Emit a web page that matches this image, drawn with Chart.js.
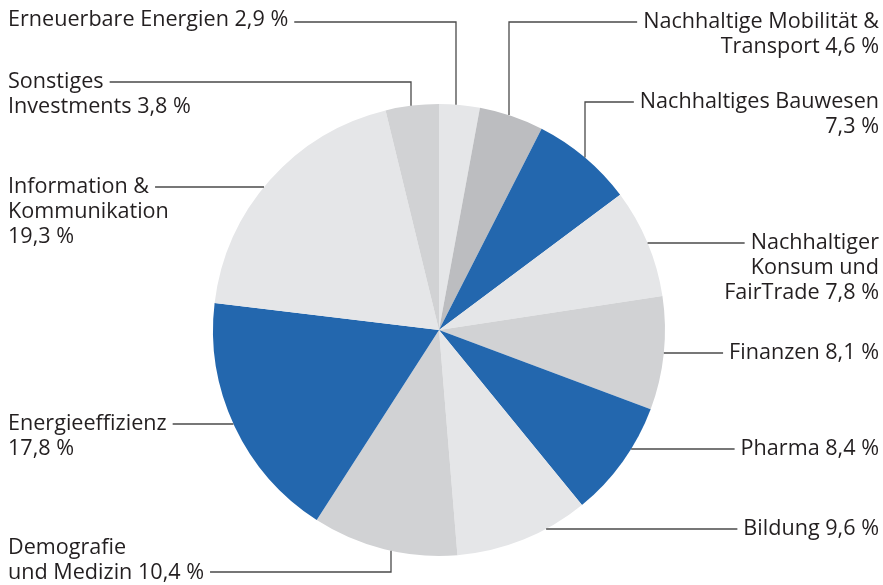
<!DOCTYPE html>
<html>
<head>
<meta charset="utf-8">
<script src="https://cdn.jsdelivr.net/npm/chart.js@4.4.0/dist/chart.umd.min.js"></script>
<style>
  html, body { margin: 0; padding: 0; background: #fff; }
  #pie { display: block; }
</style>
</head>
<body>
<canvas id="pie" width="883" height="585"></canvas>
<script>
// data, clockwise from 12 o'clock
const categories = [
    'Erneuerbare Energien',
    'Nachhaltige Mobilität & Transport',
    'Nachhaltiges Bauwesen',
    'Nachhaltiger Konsum und FairTrade',
    'Finanzen',
    'Pharma',
    'Bildung',
    'Demografie und Medizin',
    'Energieeffizienz',
    'Information & Kommunikation',
    'Sonstiges Investments'
];
const shares = [2.9, 4.6, 7.3, 7.8, 8.1, 8.4, 9.6, 10.4, 17.8, 19.3, 3.8];

const LIGHT = '#e5e6e8', MID = '#d1d2d4', DARK = '#bcbdc0', BLUE = '#2367ae';
const sliceColors = [LIGHT, DARK, BLUE, LIGHT, MID, BLUE, LIGHT, MID, BLUE, LIGHT, MID];

// label layout: text lines ({v} = value), anchor, leader line y, optional elbow x
const labelLayout = [
    { side: 'left',  x: 8,   y: 20,  lines: ['Erneuerbare Energien {v}'], hook: 0, lineY: 22, elbowX: 456 },
    { side: 'right', x: 879, y: 22,  lines: ['Nachhaltige Mobilität &', 'Transport {v}'], hook: 0, lineY: 22, elbowX: 509 },
    { side: 'right', x: 879, y: 102, lines: ['Nachhaltiges Bauwesen', '{v}'], hook: 0, lineY: 102, elbowX: 585 },
    { side: 'right', x: 879, y: 243, lines: ['Nachhaltiger', 'Konsum und', 'FairTrade {v}'], hook: 0, lineY: 243 },
    { side: 'right', x: 879, y: 353, lines: ['Finanzen {v}'], hook: 0, lineY: 353 },
    { side: 'right', x: 879, y: 449, lines: ['Pharma {v}'], hook: 0, lineY: 449 },
    { side: 'right', x: 879, y: 529, lines: ['Bildung {v}'], hook: 0, lineY: 529 },
    { side: 'left',  x: 8,   y: 548, lines: ['Demografie', 'und Medizin {v}'], hook: 1, lineY: 572, elbowX: 391 },
    { side: 'left',  x: 8,   y: 424, lines: ['Energieeffizienz', '{v}'], hook: 0, lineY: 424 },
    { side: 'left',  x: 8,   y: 187, lines: ['Information &', 'Kommunikation', '{v}'], hook: 0, lineY: 187 },
    { side: 'left',  x: 8,   y: 82,  lines: ['Sonstiges', 'Investments {v}'], hook: 0, lineY: 82, elbowX: 411 }
];

const FONT = '21.6px "Open Sans", sans-serif';
const LINE_H = 25;

function fmt(v) {
    return v.toFixed(1).replace('.', ',') + ' %';
}

const leaderLabels = {
    id: 'leaderLabels',
    afterDraw(chart) {
        const ctx = chart.ctx;
        const arcs = chart.getDatasetMeta(0).data;
        const cx = arcs[0].x, cy = arcs[0].y, r = arcs[0].outerRadius;
        ctx.save();
        ctx.font = FONT;
        ctx.fillStyle = '#231f20';
        ctx.textBaseline = 'middle';
        labelLayout.forEach((lab, i) => {
            const texts = lab.lines.map(t => t.replace('{v}', fmt(shares[i])));
            ctx.textAlign = lab.side === 'left' ? 'left' : 'right';
            texts.forEach((t, k) => ctx.fillText(t, lab.x, lab.y + k * LINE_H));

            // where the line leaves the text
            const w = ctx.measureText(texts[lab.hook]).width;
            const startX = lab.side === 'left' ? lab.x + w + 6 : lab.x - w - 6;
            const pts = [[startX, lab.lineY]];
            if (lab.elbowX !== undefined) {
                const dx = lab.elbowX - cx;
                const dy = Math.sqrt(r * r - dx * dx);
                const edgeY = lab.lineY < cy ? cy - dy : cy + dy;
                pts.push([lab.elbowX, lab.lineY], [lab.elbowX, edgeY]);
            } else {
                const dy = lab.lineY - cy;
                const dx = Math.sqrt(r * r - dy * dy);
                pts.push([lab.side === 'left' ? cx - dx : cx + dx, lab.lineY]);
            }
            ctx.beginPath();
            ctx.strokeStyle = '#4a4a4a';
            ctx.lineWidth = 1.3;
            pts.forEach((p, k) => k ? ctx.lineTo(p[0], p[1]) : ctx.moveTo(p[0], p[1]));
            ctx.stroke();
        });
        ctx.restore();
    }
};

new Chart(document.getElementById('pie'), {
    type: 'pie',
    data: {
        labels: categories,
        datasets: [{
            data: shares,
            backgroundColor: sliceColors,
            borderWidth: 0
        }]
    },
    options: {
        responsive: false,
        animation: false,
        layout: { padding: { left: 213, right: 218, top: 104, bottom: 29 } },
        plugins: {
            legend: { display: false },
            tooltip: { enabled: false }
        }
    },
    plugins: [leaderLabels]
});
</script>
</body>
</html>
